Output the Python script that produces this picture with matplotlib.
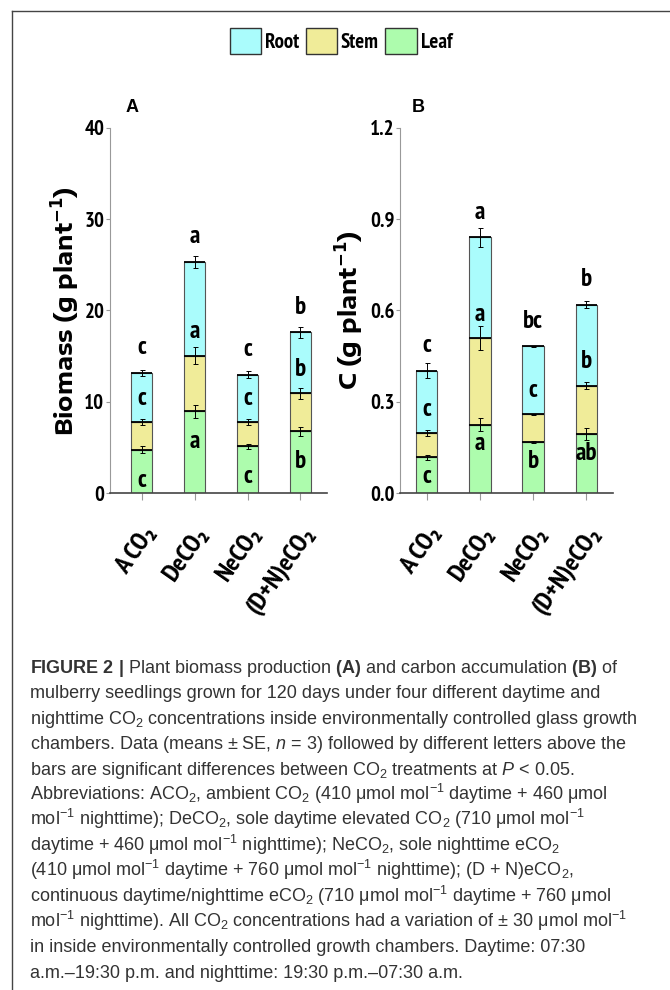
import matplotlib
matplotlib.use('Agg')
import matplotlib.pyplot as plt
from matplotlib.lines import Line2D
from matplotlib.patches import Patch
from matplotlib import font_manager
import numpy as np

plt.rcParams['mathtext.fontset'] = 'custom'
plt.rcParams['mathtext.rm'] = 'Liberation Sans'
plt.rcParams['mathtext.it'] = 'Liberation Sans:italic'
plt.rcParams['mathtext.bf'] = 'Liberation Sans:bold'


def pick_family(candidates, fallback):
    # first family that ships a static bold face
    fonts = font_manager.fontManager.ttflist
    for name in candidates:
        for f in fonts:
            if f.name == name and '[' not in f.fname and int(f.weight) >= 700:
                return name
    return fallback


NARROW = [pick_family(['Liberation Sans Narrow', 'Arial Narrow',
                       'Archivo Narrow', 'PT Sans Narrow', 'Roboto Condensed',
                       'Fira Sans Condensed', 'IBM Plex Sans Condensed',
                       'Asap Condensed', 'Encode Sans Condensed'],
                      'Roboto'), 'DejaVu Sans']
WIDE = [pick_family(['Archivo Black', 'Encode Sans Expanded'],
                    'DejaVu Sans'), 'DejaVu Sans']

ROOT_C = '#aafcfc'
STEM_C = '#f0ec99'
LEAF_C = '#adfcad'

treatments = ['A CO₂', 'DeCO₂', 'NeCO₂', '(D+N)eCO₂']

# (A) biomass, g plant-1
bio_leaf = [4.75, 8.95, 5.10, 6.75]
bio_stem = [3.03, 6.10, 2.68, 4.15]
bio_root = [5.37, 10.25, 5.19, 6.70]
bio_leaf_se = [0.40, 0.73, 0.24, 0.50]
bio_stem_se = [0.30, 0.90, 0.30, 0.60]
bio_root_se = [0.30, 0.64, 0.36, 0.60]
bio_top_letters = ['c', 'a', 'c', 'b']
bio_root_letters = ['c', 'a', 'c', 'b']
bio_leaf_letters = ['c', 'a', 'c', 'b']

# (B) carbon, g plant-1
c_leaf = [0.117, 0.225, 0.168, 0.194]
c_stem = [0.080, 0.285, 0.090, 0.159]
c_root = [0.205, 0.330, 0.224, 0.266]
c_leaf_se = [0.007, 0.022, 0.003, 0.020]
c_stem_se = [0.010, 0.040, 0.003, 0.011]
c_root_se = [0.025, 0.031, 0.002, 0.012]
c_top_letters = ['c', 'a', 'bc', 'b']
c_root_letters = ['c', 'a', 'c', 'b']
c_leaf_letters = ['c', 'a', 'b', 'ab']

caption = [
    r'$\mathbf{FIGURE\ 2\ |}$ Plant biomass production $\mathbf{(A)}$ and carbon accumulation $\mathbf{(B)}$ of',
    'mulberry seedlings grown for 120 days under four different daytime and',
    r'nighttime CO$_2$ concentrations inside environmentally controlled glass growth',
    r'chambers. Data (means $\pm$ SE, $\mathit{n}$ = 3) followed by different letters above the',
    r'bars are significant differences between CO$_2$ treatments at $\mathit{P}$ < 0.05.',
    r'Abbreviations: ACO$_2$, ambient CO$_2$ (410 μmol mol$^{-1}$ daytime + 460 μmol',
    r'mol$^{-1}$ nighttime); DeCO$_2$, sole daytime elevated CO$_2$ (710 μmol mol$^{-1}$',
    r'daytime + 460 μmol mol$^{-1}$ nighttime); NeCO$_2$, sole nighttime eCO$_2$',
    r'(410 μmol mol$^{-1}$ daytime + 760 μmol mol$^{-1}$ nighttime); (D + N)eCO$_2$,',
    r'continuous daytime/nighttime eCO$_2$ (710 μmol mol$^{-1}$ daytime + 760 μmol',
    r'mol$^{-1}$ nighttime). All CO$_2$ concentrations had a variation of $\pm$ 30 μmol mol$^{-1}$',
    'in inside environmentally controlled growth chambers. Daytime: 07:30',
    'a.m.–19:30 p.m. and nighttime: 19:30 p.m.–07:30 a.m.',
]


def stacked(ax, leaf, stem, root, se_leaf, se_stem, se_root,
            top_l, root_l, leaf_l, ymax, ticks, ticklabels, xlo, leaf_off):
    x = np.arange(len(leaf))
    leaf, stem, root = map(np.asarray, (leaf, stem, root))
    stem_top = leaf + stem
    total = stem_top + root
    w = 0.4
    kw = dict(width=w, edgecolor='#555555', linewidth=0.8, zorder=2)
    ax.bar(x, leaf, color=LEAF_C, **kw)
    ax.bar(x, stem, bottom=leaf, color=STEM_C, **kw)
    ax.bar(x, root, bottom=stem_top, color=ROOT_C, **kw)
    for tops in (leaf, stem_top, total):
        ax.hlines(tops, x - w / 2, x + w / 2, color='black', lw=1.3, zorder=3)
    ekw = dict(fmt='none', ecolor='black', elinewidth=0.7, capsize=1.8,
               capthick=0.7, zorder=4)
    ax.errorbar(x, leaf, yerr=se_leaf, **ekw)
    ax.errorbar(x, stem_top, yerr=se_stem, **ekw)
    ax.errorbar(x, total, yerr=se_root, **ekw)

    tkw = dict(textcoords='offset points', ha='center', va='center',
               family=NARROW, weight='bold', size=18, zorder=5)
    for i in x:
        ax.annotate(top_l[i], (i, total[i]), xytext=(0, 18), **tkw)
        ax.annotate(root_l[i], (i, stem_top[i]), xytext=(0, 17), **tkw)
        ax.annotate(leaf_l[i], (i, leaf[i]), xytext=(0, -leaf_off), **tkw)

    ax.set_xlim(xlo, 3.5)
    ax.set_ylim(0, ymax)
    ax.set_yticks(ticks)
    ax.set_yticklabels(ticklabels, family=NARROW, weight='bold', size=15)
    ax.set_xticks(x)
    ax.set_xticklabels(treatments, rotation=55, ha='right',
                       rotation_mode='anchor', family=NARROW,
                       weight='bold', style='italic', size=19)
    for s in ('top', 'right'):
        ax.spines[s].set_visible(False)
    ax.spines['left'].set_color('#999999')
    ax.spines['bottom'].set_color('#444444')
    ax.spines['bottom'].set_linewidth(1.2)
    ax.tick_params(axis='y', length=3, color='#999999', pad=1)
    ax.tick_params(axis='x', length=5, color='#999999', pad=16)


fig = plt.figure(figsize=(6.7, 9.9), dpi=100)

ax1 = fig.add_axes([0.164, 0.502, 0.324, 0.369])
stacked(ax1, bio_leaf, bio_stem, bio_root, bio_leaf_se, bio_stem_se,
        bio_root_se, bio_top_letters, bio_root_letters, bio_leaf_letters,
        40, [0, 10, 20, 30, 40], ['0', '10', '20', '30', '40'], -0.6, 22)

ax2 = fig.add_axes([0.597, 0.502, 0.318, 0.369])
stacked(ax2, c_leaf, c_stem, c_root, c_leaf_se, c_stem_se, c_root_se,
        c_top_letters, c_root_letters, c_leaf_letters,
        1.2, [0, 0.3, 0.6, 0.9, 1.2], ['0.0', '0.3', '0.6', '0.9', '1.2'],
        -0.5, 14)

ylab = dict(rotation=90, ha='center', va='center', family=WIDE,
            weight='bold', size=17, math_fontfamily='dejavusans')
fig.text(66 / 670, 1 - 311 / 990, r'Biomass (g plant$^{\mathbf{-1}}$)', **ylab)
fig.text(350 / 670, 1 - 310 / 990, r'C (g plant$^{\mathbf{-1}}$)', **ylab)

pan = dict(ha='center', va='center', family='Liberation Sans',
           weight='bold', size=13)
fig.text(132 / 670, 1 - 107 / 990, 'A', **pan)
fig.text(418 / 670, 1 - 107 / 990, 'B', **pan)

handles = [Patch(facecolor=c, edgecolor='#333333', linewidth=1)
           for c in (ROOT_C, STEM_C, LEAF_C)]
fig.legend(handles, ['Root', 'Stem', 'Leaf'], loc='center',
           bbox_to_anchor=(341 / 670, 1 - 41 / 990), ncol=3, frameon=False,
           handlelength=1.5, handleheight=1.6, handletextpad=0.2,
           columnspacing=0.3,
           prop=dict(family=NARROW, weight='bold', size=15))

# caption block
for k, line in enumerate(caption):
    fig.text(30 / 670, 1 - (673 + 25.4 * k) / 990, line, ha='left',
             va='baseline', family='Liberation Sans', size=13,
             color='#333333')

# page frame, top and left edges
fig.add_artist(Line2D([12 / 670, 1], [1 - 11 / 990] * 2,
                      transform=fig.transFigure, color='#444444', lw=1))
fig.add_artist(Line2D([12 / 670] * 2, [0, 1 - 11 / 990],
                      transform=fig.transFigure, color='#444444', lw=1))

fig.savefig('out.png', dpi=100)
